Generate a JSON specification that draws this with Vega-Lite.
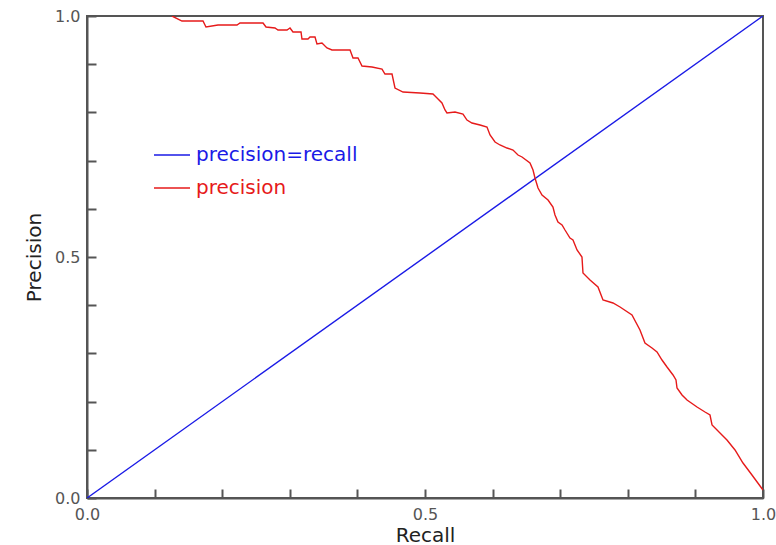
{
  "$schema": "https://vega.github.io/schema/vega-lite/v6.json",
  "width": 676,
  "height": 482,
  "autosize": {"type": "none"},
  "padding": {"left": 87, "top": 16, "right": 13, "bottom": 47},
  "background": "white",
  "config": {
    "view": {"stroke": "#555555", "strokeWidth": 2},
    "font": "DejaVu Sans"
  },
  "data": {
    "values": [
      {"series": "precision=recall", "recall": 0.0, "precision": 0.0},
      {"series": "precision=recall", "recall": 1.0, "precision": 1.0},
      {"series": "precision", "recall": 0.1257, "precision": 1.0},
      {"series": "precision", "recall": 0.1405, "precision": 0.9896},
      {"series": "precision", "recall": 0.1716, "precision": 0.9896},
      {"series": "precision", "recall": 0.1760, "precision": 0.9772},
      {"series": "precision", "recall": 0.1938, "precision": 0.9813},
      {"series": "precision", "recall": 0.2219, "precision": 0.9813},
      {"series": "precision", "recall": 0.2263, "precision": 0.9855},
      {"series": "precision", "recall": 0.2604, "precision": 0.9855},
      {"series": "precision", "recall": 0.2648, "precision": 0.9772},
      {"series": "precision", "recall": 0.2781, "precision": 0.9751},
      {"series": "precision", "recall": 0.2825, "precision": 0.9710},
      {"series": "precision", "recall": 0.2959, "precision": 0.9710},
      {"series": "precision", "recall": 0.3003, "precision": 0.9751},
      {"series": "precision", "recall": 0.3047, "precision": 0.9668},
      {"series": "precision", "recall": 0.3166, "precision": 0.9668},
      {"series": "precision", "recall": 0.3180, "precision": 0.9523},
      {"series": "precision", "recall": 0.3269, "precision": 0.9523},
      {"series": "precision", "recall": 0.3299, "precision": 0.9564},
      {"series": "precision", "recall": 0.3373, "precision": 0.9564},
      {"series": "precision", "recall": 0.3402, "precision": 0.9419},
      {"series": "precision", "recall": 0.3476, "precision": 0.9440},
      {"series": "precision", "recall": 0.3550, "precision": 0.9336},
      {"series": "precision", "recall": 0.3624, "precision": 0.9295},
      {"series": "precision", "recall": 0.3891, "precision": 0.9295},
      {"series": "precision", "recall": 0.3935, "precision": 0.9129},
      {"series": "precision", "recall": 0.4009, "precision": 0.9129},
      {"series": "precision", "recall": 0.4068, "precision": 0.8963},
      {"series": "precision", "recall": 0.4216, "precision": 0.8942},
      {"series": "precision", "recall": 0.4364, "precision": 0.8900},
      {"series": "precision", "recall": 0.4408, "precision": 0.8797},
      {"series": "precision", "recall": 0.4512, "precision": 0.8797},
      {"series": "precision", "recall": 0.4556, "precision": 0.8506},
      {"series": "precision", "recall": 0.4675, "precision": 0.8423},
      {"series": "precision", "recall": 0.4926, "precision": 0.8402},
      {"series": "precision", "recall": 0.5118, "precision": 0.8382},
      {"series": "precision", "recall": 0.5178, "precision": 0.8299},
      {"series": "precision", "recall": 0.5251, "precision": 0.8195},
      {"series": "precision", "recall": 0.5296, "precision": 0.8050},
      {"series": "precision", "recall": 0.5325, "precision": 0.7988},
      {"series": "precision", "recall": 0.5444, "precision": 0.8008},
      {"series": "precision", "recall": 0.5562, "precision": 0.7967},
      {"series": "precision", "recall": 0.5621, "precision": 0.7842},
      {"series": "precision", "recall": 0.5695, "precision": 0.7780},
      {"series": "precision", "recall": 0.5814, "precision": 0.7739},
      {"series": "precision", "recall": 0.5917, "precision": 0.7697},
      {"series": "precision", "recall": 0.5962, "precision": 0.7531},
      {"series": "precision", "recall": 0.6036, "precision": 0.7386},
      {"series": "precision", "recall": 0.6109, "precision": 0.7324},
      {"series": "precision", "recall": 0.6213, "precision": 0.7261},
      {"series": "precision", "recall": 0.6302, "precision": 0.7220},
      {"series": "precision", "recall": 0.6376, "precision": 0.7116},
      {"series": "precision", "recall": 0.6435, "precision": 0.7075},
      {"series": "precision", "recall": 0.6553, "precision": 0.6950},
      {"series": "precision", "recall": 0.6598, "precision": 0.6805},
      {"series": "precision", "recall": 0.6627, "precision": 0.6639},
      {"series": "precision", "recall": 0.6672, "precision": 0.6432},
      {"series": "precision", "recall": 0.6731, "precision": 0.6286},
      {"series": "precision", "recall": 0.6820, "precision": 0.6183},
      {"series": "precision", "recall": 0.6893, "precision": 0.6037},
      {"series": "precision", "recall": 0.6923, "precision": 0.5871},
      {"series": "precision", "recall": 0.6967, "precision": 0.5726},
      {"series": "precision", "recall": 0.7027, "precision": 0.5664},
      {"series": "precision", "recall": 0.7071, "precision": 0.5560},
      {"series": "precision", "recall": 0.7145, "precision": 0.5394},
      {"series": "precision", "recall": 0.7189, "precision": 0.5353},
      {"series": "precision", "recall": 0.7249, "precision": 0.5145},
      {"series": "precision", "recall": 0.7322, "precision": 0.5000},
      {"series": "precision", "recall": 0.7337, "precision": 0.4668},
      {"series": "precision", "recall": 0.7441, "precision": 0.4523},
      {"series": "precision", "recall": 0.7559, "precision": 0.4378},
      {"series": "precision", "recall": 0.7633, "precision": 0.4108},
      {"series": "precision", "recall": 0.7781, "precision": 0.4046},
      {"series": "precision", "recall": 0.7885, "precision": 0.3963},
      {"series": "precision", "recall": 0.8062, "precision": 0.3797},
      {"series": "precision", "recall": 0.8180, "precision": 0.3485},
      {"series": "precision", "recall": 0.8254, "precision": 0.3216},
      {"series": "precision", "recall": 0.8358, "precision": 0.3112},
      {"series": "precision", "recall": 0.8432, "precision": 0.3029},
      {"series": "precision", "recall": 0.8506, "precision": 0.2863},
      {"series": "precision", "recall": 0.8580, "precision": 0.2718},
      {"series": "precision", "recall": 0.8669, "precision": 0.2552},
      {"series": "precision", "recall": 0.8713, "precision": 0.2448},
      {"series": "precision", "recall": 0.8728, "precision": 0.2282},
      {"series": "precision", "recall": 0.8802, "precision": 0.2137},
      {"series": "precision", "recall": 0.8876, "precision": 0.2033},
      {"series": "precision", "recall": 0.9024, "precision": 0.1888},
      {"series": "precision", "recall": 0.9142, "precision": 0.1784},
      {"series": "precision", "recall": 0.9216, "precision": 0.1722},
      {"series": "precision", "recall": 0.9246, "precision": 0.1515},
      {"series": "precision", "recall": 0.9364, "precision": 0.1349},
      {"series": "precision", "recall": 0.9467, "precision": 0.1203},
      {"series": "precision", "recall": 0.9586, "precision": 0.0996},
      {"series": "precision", "recall": 0.9704, "precision": 0.0726},
      {"series": "precision", "recall": 0.9837, "precision": 0.0477},
      {"series": "precision", "recall": 1.0, "precision": 0.0166}
    ]
  },
  "mark": {"type": "line", "strokeWidth": 1.4, "clip": true},
  "encoding": {
    "x": {
      "field": "recall",
      "type": "quantitative",
      "scale": {"domain": [0, 1], "nice": false, "zero": false},
      "axis": {
        "title": "Recall",
        "values": [0, 0.1, 0.2, 0.3, 0.4, 0.5, 0.6, 0.7, 0.8, 0.9, 1.0],
        "labelExpr": "(abs(datum.value) < 0.001 || abs(datum.value - 0.5) < 0.001 || abs(datum.value - 1) < 0.001) ? format(datum.value, '.1f') : ''",
        "grid": false,
        "domainColor": "#555555",
        "domainWidth": 2,
        "tickColor": "#555555",
        "tickWidth": 2,
        "tickSize": -9,
        "labelPadding": 17,
        "labelFontSize": 16,
        "labelColor": "#555555",
        "labelFlush": false,
        "labelOverlap": false,
        "titleFontSize": 20,
        "titleFontWeight": "normal",
        "titleColor": "#222222",
        "titlePadding": 3
      }
    },
    "y": {
      "field": "precision",
      "type": "quantitative",
      "scale": {"domain": [0, 1], "nice": false, "zero": false},
      "axis": {
        "title": "Precision",
        "values": [0, 0.1, 0.2, 0.3, 0.4, 0.5, 0.6, 0.7, 0.8, 0.9, 1.0],
        "labelExpr": "(abs(datum.value) < 0.001 || abs(datum.value - 0.5) < 0.001 || abs(datum.value - 1) < 0.001) ? format(datum.value, '.1f') : ''",
        "grid": false,
        "domainColor": "#555555",
        "domainWidth": 2,
        "tickColor": "#555555",
        "tickWidth": 2,
        "tickSize": -9,
        "labelPadding": 16,
        "labelFontSize": 16,
        "labelColor": "#555555",
        "labelFlush": false,
        "labelOverlap": false,
        "titleFontSize": 20,
        "titleFontWeight": "normal",
        "titleColor": "#222222",
        "titlePadding": 10
      }
    },
    "color": {
      "field": "series",
      "type": "nominal",
      "scale": {"domain": ["precision=recall", "precision"], "range": ["#1a1ae6", "#e61a1a"]},
      "legend": {
        "title": null,
        "orient": "none",
        "legendX": 66,
        "legendY": 120,
        "symbolType": "stroke",
        "symbolSize": 1300,
        "symbolStrokeWidth": 1.5,
        "labelFontSize": 20,
        "labelLimit": 400,
        "labelOffset": 5,
        "rowPadding": 4,
        "padding": 0,
        "encode": {
          "labels": {
            "update": {
              "fill": {"signal": "datum.value === 'precision' ? '#e61a1a' : '#1a1ae6'"}
            }
          }
        }
      }
    }
  }
}
